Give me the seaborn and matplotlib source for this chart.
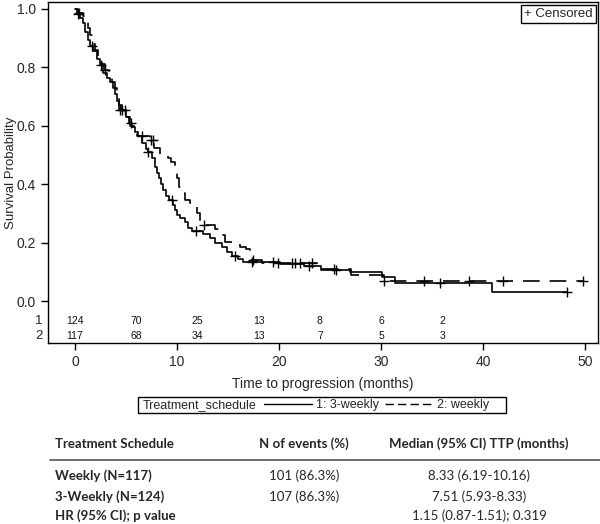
import numpy as np
import pandas as pd
import seaborn as sns
import matplotlib.pyplot as plt
from matplotlib.lines import Line2D
from matplotlib.patches import Rectangle

# Kaplan-Meier steps: time (months) and survival after that time
t_3weekly = [0, 0.2, 0.5, 0.8, 1.0, 1.3, 1.5, 1.8, 2.2, 2.45, 2.75, 3.1, 3.4, 3.7, 3.9,
             4.1, 4.3, 5.0, 5.3, 5.6, 5.9, 6.2, 6.6, 7.0, 7.2, 7.5, 7.8, 8.0, 8.2, 8.4,
             8.6, 8.9, 9.2, 9.6, 9.8, 10.0, 10.3, 10.8, 11.1, 11.5, 12.5, 13.2, 13.7,
             14.4, 14.9, 15.4, 16.0, 16.5, 20.1, 22.4, 24.1, 27.0, 30.1, 31.4, 40.85, 48.2]
s_3weekly = [1.0, 0.984, 0.968, 0.952, 0.92, 0.895, 0.875, 0.855, 0.83, 0.808, 0.782, 0.765,
             0.75, 0.73, 0.71, 0.685, 0.655, 0.63, 0.61, 0.595, 0.578, 0.565, 0.54, 0.52,
             0.51, 0.49, 0.46, 0.44, 0.42, 0.40, 0.38, 0.36, 0.345, 0.33, 0.31, 0.295,
             0.283, 0.27, 0.25, 0.24, 0.23, 0.215, 0.198, 0.186, 0.169, 0.155, 0.145,
             0.135, 0.128, 0.12, 0.106, 0.098, 0.081, 0.063, 0.032, 0.032]
cens_3weekly = [0.3, 1.7, 2.5, 4.4, 4.6, 4.9, 5.5, 7.2, 9.5, 11.9, 15.7, 17.3, 19.4,
                22.9, 25.6, 35.8, 48.2]

t_weekly = [0, 0.3, 0.8, 1.1, 1.3, 1.5, 1.8, 2.0, 2.3, 2.6, 2.9, 3.3, 3.6, 3.9, 4.1,
            4.3, 4.6, 5.0, 5.4, 6.0, 6.1, 7.35, 7.7, 8.3, 9.1, 9.4, 9.8, 10.0, 10.2,
            10.5, 10.8, 11.3, 12.0, 12.25, 13.7, 14.2, 14.7, 15.4, 16.2, 16.8, 17.2,
            18.3, 24.0, 27.1, 30.3, 49.8]
s_weekly = [1.0, 0.985, 0.975, 0.96, 0.935, 0.91, 0.88, 0.86, 0.835, 0.81, 0.79, 0.77,
            0.75, 0.73, 0.70, 0.67, 0.655, 0.63, 0.60, 0.575, 0.565, 0.55, 0.525, 0.50,
            0.49, 0.475, 0.45, 0.42, 0.39, 0.37, 0.346, 0.335, 0.30, 0.26, 0.245,
            0.226, 0.203, 0.198, 0.186, 0.178, 0.14, 0.131, 0.11, 0.089, 0.07, 0.07]
cens_weekly = [0.4, 2.9, 6.6, 7.4, 7.6, 12.6, 17.4, 19.9, 21.3, 21.6, 22.1, 23.2, 25.4,
               30.3, 34.2, 38.6, 42.0, 49.8]

# number at risk
risk_times = [0, 6, 12, 18, 24, 30, 36]
risk_3weekly = [124, 70, 25, 13, 8, 6, 2]
risk_weekly = [117, 68, 34, 13, 7, 5, 3]

# summary table under the plot
tab_header = ["Treatment Schedule", "N of events (%)", "Median (95% CI) TTP (months)"]
tab_groups = ["Weekly (N=117)", "3-Weekly (N=124)", "HR (95% CI); p value"]
tab_events = ["101 (86.3%)", "107 (86.3%)", ""]
tab_median = ["8.33 (6.19-10.16)", "7.51 (5.93-8.33)", "1.15 (0.87-1.51); 0.319"]


def surv_at(times, surv, tc):
    idx = np.searchsorted(times, tc, side="right") - 1
    return np.asarray(surv)[idx]


sns.set_style("ticks")
plt.rcParams["font.family"] = ["Liberation Sans", "DejaVu Sans"]

W, H = 600, 524
fig = plt.figure(figsize=(6.0, 5.24), dpi=100)
ax = fig.add_axes([0.08, 0.3454, 0.9167, 0.6508])

dash = (0, (10, 6))
sns.lineplot(x=t_3weekly, y=s_3weekly, drawstyle="steps-post", color="black",
             lw=1.2, ax=ax, estimator=None, sort=False)
sns.lineplot(x=t_weekly, y=s_weekly, drawstyle="steps-post", color="black",
             lw=1.2, linestyle=dash, ax=ax, estimator=None, sort=False)

sns.scatterplot(x=cens_3weekly, y=surv_at(t_3weekly, s_3weekly, cens_3weekly),
                marker="+", s=45, color="black", linewidth=1, ax=ax)
sns.scatterplot(x=cens_weekly, y=surv_at(t_weekly, s_weekly, cens_weekly),
                marker="+", s=45, color="black", linewidth=1, ax=ax)

# at-risk rows inside the frame
for tt, n1, n2 in zip(risk_times, risk_3weekly, risk_weekly):
    ax.text(tt, -0.068, str(n1), ha="center", va="center", fontsize=7.5, color="#111111")
    ax.text(tt, -0.12, str(n2), ha="center", va="center", fontsize=7.5, color="#111111")
ax.text(-0.01, -0.068, "1", transform=ax.get_yaxis_transform(), ha="right",
        va="center", fontsize=9.5)
ax.text(-0.01, -0.12, "2", transform=ax.get_yaxis_transform(), ha="right",
        va="center", fontsize=9.5)

ax.set_xlim(-2.65, 51.27)
ax.set_ylim(-0.1438, 1.024)
ax.set_xticks([0, 10, 20, 30, 40, 50])
ax.set_yticks([0.0, 0.2, 0.4, 0.6, 0.8, 1.0])
ax.set_yticklabels(["0.0", "0.2", "0.4", "0.6", "0.8", "1.0"])
ax.tick_params(direction="out", length=5, width=1, labelsize=10, color="black")
for sp in ax.spines.values():
    sp.set_visible(True)
    sp.set_linewidth(1)
    sp.set_color("black")
ax.set_xlabel("Time to progression (months)", fontsize=10, labelpad=6)
ax.set_ylabel("Survival Probability", fontsize=9.5)
ax.yaxis.set_label_coords(-0.056, 0.5)

ax.text(0.991, 0.982, "+ Censored", transform=ax.transAxes, ha="right", va="top",
        fontsize=9.5, bbox=dict(boxstyle="square,pad=0.25", fc="white", ec="black", lw=1))

# legend strip below the x label
fig.add_artist(Rectangle((138 / W, 1 - 413 / H), 368 / W, 16 / H, transform=fig.transFigure,
                         fill=False, ec="black", lw=1))
fig.text(143 / W, 1 - 405 / H, "Treatment_schedule", ha="left", va="center", fontsize=9)
handles = [Line2D([], [], color="black", lw=1),
           Line2D([], [], color="black", lw=1, linestyle=(0, (6, 3)))]
fig.legend(handles, ["1: 3-weekly", "2: weekly"], ncol=2, loc="center left",
           bbox_to_anchor=(264 / W, 1 - 405 / H), fontsize=9, frameon=False,
           handlelength=3.8, handletextpad=0.4, columnspacing=0.4,
           borderpad=0, borderaxespad=0)

# table
tfont = ["Lato", "DejaVu Sans"]
fs = 9.5
y0 = 1 - 444 / H
fig.text(55 / W, y0, tab_header[0], ha="left", va="center", fontsize=fs,
         fontweight="bold", family=tfont)
fig.text(304 / W, y0, tab_header[1], ha="center", va="center", fontsize=fs,
         fontweight="bold", family=tfont)
fig.text(479 / W, y0, tab_header[2], ha="center", va="center", fontsize=fs,
         fontweight="bold", family=tfont)
fig.add_artist(Line2D([50 / W, 1.0], [1 - 460 / H, 1 - 460 / H], color="#555555", lw=1.2))
row_y = [476, 497, 516]
for g, e, m, ry in zip(tab_groups, tab_events, tab_median, row_y):
    yy = 1 - ry / H
    fig.text(55 / W, yy, g, ha="left", va="center", fontsize=fs, fontweight="bold", family=tfont)
    fig.text(304 / W, yy, e, ha="center", va="center", fontsize=fs, family=tfont)
    fig.text(479 / W, yy, m, ha="center", va="center", fontsize=fs, family=tfont)

fig.savefig("out.png", dpi=100, facecolor="white")
